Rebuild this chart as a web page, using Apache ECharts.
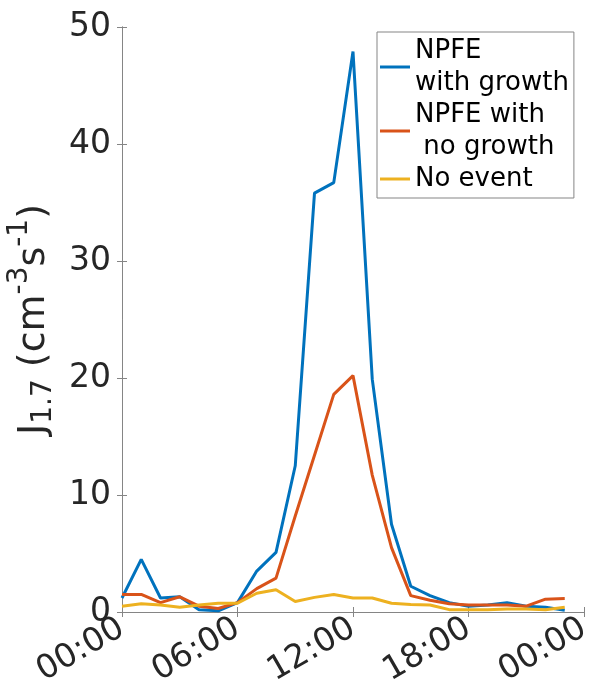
<!DOCTYPE html>
<html>
<head>
<meta charset="utf-8">
<script src="https://cdn.jsdelivr.net/npm/echarts@6/dist/echarts.min.js"></script>
<style>
  html, body { margin: 0; padding: 0; background: #fff; }
  #chart { width: 597px; height: 689px; }
</style>
</head>
<body>
<div id="chart"></div>
<script>
// hours of the day (data points every hour)
const hours = [0, 1, 2, 3, 4, 5, 6, 7, 8, 9, 10, 11, 12, 13, 14, 15, 16, 17, 18, 19, 20, 21, 22, 23];

// J1.7 values
const withGrowth = [1.2, 4.5, 1.2, 1.3, 0.2, 0.1, 0.8, 3.5, 5.1, 12.5, 35.8, 36.7, 47.9, 19.9, 7.5, 2.2, 1.4, 0.8, 0.5, 0.6, 0.8, 0.5, 0.4, 0.15];
const noGrowth = [1.5, 1.5, 0.8, 1.3, 0.5, 0.3, 0.8, 2.0, 2.9, 8.2, 13.4, 18.6, 20.2, 11.7, 5.5, 1.4, 1.0, 0.7, 0.6, 0.6, 0.6, 0.5, 1.1, 1.15];
const noEvent = [0.5, 0.7, 0.6, 0.4, 0.6, 0.75, 0.75, 1.6, 1.9, 0.9, 1.25, 1.5, 1.2, 1.2, 0.75, 0.65, 0.6, 0.2, 0.2, 0.2, 0.25, 0.25, 0.2, 0.4];

const seriesNames = ['NPFE\nwith growth', 'NPFE with\n no growth', 'No event'];
const seriesColors = ['#0072BD', '#D95319', '#EDB120'];

const yTicks = [0, 10, 20, 30, 40, 50];

const font = 'DejaVu Sans';
const axisGray = '#858585';
const textColor = '#262626';

const chart = echarts.init(document.getElementById('chart'));

const pairs = (vals) => hours.map((h, i) => [h, vals[i]]);
const fmtHour = (v) => String(v % 24).padStart(2, '0') + ':00';

const option = {
    animation: false,
    backgroundColor: '#fff',
    grid: { left: 122, right: 13, top: 27, bottom: 77, containLabel: false, outerBoundsMode: 'none' },
    legend: {
        orient: 'vertical',
        left: 377,
        top: 32,
        padding: [3, 5, 3, 3],
        itemGap: 0,
        itemWidth: 30,
        itemHeight: 3,
        backgroundColor: '#fff',
        borderColor: axisGray,
        borderWidth: 1,
        borderRadius: 0,
        icon: 'rect',
        textStyle: { fontFamily: font, fontSize: 26, lineHeight: 32, color: '#000' },
        data: seriesNames
    },
    xAxis: [{
        type: 'value',
        min: 0, max: 24, interval: 6,
        axisLine: { lineStyle: { color: axisGray, width: 1 } },
        axisTick: { inside: true, length: 5, lineStyle: { color: axisGray } },
        splitLine: { show: false },
        axisLabel: {
            formatter: fmtHour, rotate: 30, margin: 14,
            fontFamily: font, fontSize: 33, color: textColor
        }
    }, {
        type: 'value', position: 'top',
        min: 0, max: 24, interval: 6,
        axisLine: { lineStyle: { color: axisGray, width: 1 } },
        axisTick: { inside: true, length: 5, lineStyle: { color: axisGray } },
        axisLabel: { show: false },
        splitLine: { show: false }
    }],
    yAxis: [{
        type: 'value',
        min: yTicks[0], max: yTicks[yTicks.length - 1], interval: 10,
        axisLine: { show: true, lineStyle: { color: axisGray, width: 1 } },
        axisTick: { show: true, inside: true, length: 5, lineStyle: { color: axisGray } },
        splitLine: { show: false },
        axisLabel: { margin: 11, fontFamily: font, fontSize: 33, color: textColor },
        name: '{b|J}{s|1.7}{b| (cm}{p|-3}{b|s}{p|-1}{b|)}',
        nameLocation: 'middle',
        nameGap: 57,
        nameRotate: 90,
        nameTextStyle: {
            fontFamily: font, color: textColor,
            rich: {
                b: { fontFamily: font, fontSize: 38, color: textColor },
                s: { fontFamily: font, fontSize: 28, color: textColor, padding: [20, 0, 0, 0] },
                p: { fontFamily: font, fontSize: 28, color: textColor, padding: [0, 0, 28, 0] }
            }
        }
    }, {
        type: 'value', position: 'right',
        min: yTicks[0], max: yTicks[yTicks.length - 1], interval: 10,
        axisLine: { show: true, lineStyle: { color: axisGray, width: 1 } },
        axisTick: { show: true, inside: true, length: 5, lineStyle: { color: axisGray } },
        axisLabel: { show: false },
        splitLine: { show: false }
    }],
    series: [withGrowth, noGrowth, noEvent].map((vals, i) => ({
        name: seriesNames[i],
        type: 'line',
        data: pairs(vals),
        showSymbol: false,
        symbol: 'none',
        color: seriesColors[i],
        lineStyle: { width: 3, color: seriesColors[i] }
    }))
};

option && chart.setOption(option);
</script>
</body>
</html>
